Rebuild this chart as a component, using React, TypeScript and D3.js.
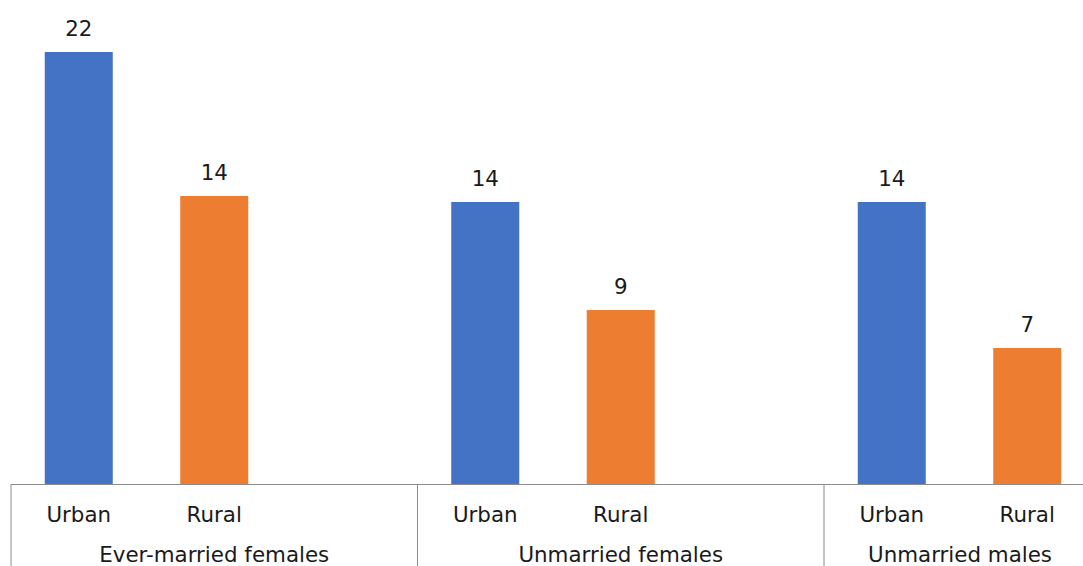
import React from "react";
import * as d3 from "d3";

const groups = ["Ever-married females", "Unmarried females", "Unmarried males"];
const areas = ["Urban", "Rural"];
const urbanValues = [21.6, 14.1, 14.1];
const ruralValues = [14.4, 8.7, 6.8];
const slotsPerGroup = 3;

const W = 1083;
const H = 566;
const axisLeft = 11;
const groupWidth = 406.5;
const baseY = 484;
const plotRight = 1096;
const font = "'DejaVu Sans', sans-serif";
const fs = 21.4;

export default function App() {
  const y = d3.scaleLinear().domain([0, 24.2]).range([baseY, 0]);
  const xGroup = d3
    .scaleBand<string>()
    .domain(groups)
    .range([axisLeft, axisLeft + groupWidth * groups.length])
    .padding(0);
  const slotIdx = d3.range(slotsPerGroup).map(String);
  const xSlot = d3.scaleBand<string>().domain(slotIdx).range([0, groupWidth]);
  const barW = xSlot.bandwidth() * 0.502;
  const fmt = d3.format(".0f");
  const series = [
    { name: areas[0], values: urbanValues, color: "#4472C4" },
    { name: areas[1], values: ruralValues, color: "#ED7D31" },
  ];

  return (
    <svg width={W} height={H} style={{ position: "absolute", left: 0, top: 0, background: "#fff" }}>
      {groups.map((g, gi) => {
        const gx = xGroup(g)!;
        return (
          <g key={g}>
            {series.map((s, si) => {
              const cx = gx + xSlot(String(si))! + xSlot.bandwidth() / 2;
              const v = s.values[gi];
              return (
                <g key={s.name}>
                  <rect x={cx - barW / 2} y={y(v)} width={barW} height={baseY - y(v)} fill={s.color} />
                  <text x={cx} y={y(v) - 16} textAnchor="middle" fontFamily={font} fontSize={fs} fill="#1a1a1a">
                    {fmt(v)}
                  </text>
                  <text x={cx} y={522} textAnchor="middle" fontFamily={font} fontSize={fs} fill="#1a1a1a">
                    {s.name}
                  </text>
                </g>
              );
            })}
            <line x1={gx} x2={gx} y1={baseY} y2={H} stroke="#8c8c8c" strokeWidth={1} />
            <text
              x={(gx + Math.min(gx + groupWidth, plotRight)) / 2}
              y={562}
              textAnchor="middle"
              fontFamily={font}
              fontSize={fs}
              fill="#1a1a1a"
            >
              {g}
            </text>
          </g>
        );
      })}
      <line x1={axisLeft} x2={W} y1={baseY + 0.5} y2={baseY + 0.5} stroke="#8c8c8c" strokeWidth={1} />
    </svg>
  );
}
